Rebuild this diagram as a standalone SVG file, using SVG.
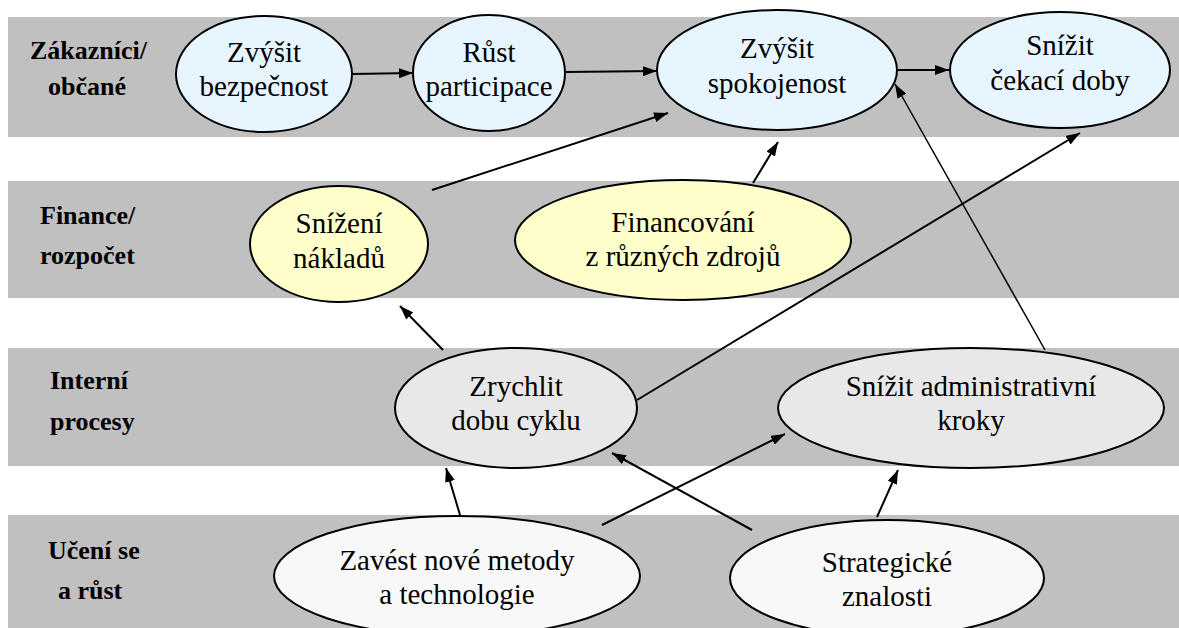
<svg xmlns="http://www.w3.org/2000/svg" width="1179" height="628" viewBox="0 0 1179 628">
<defs>
<marker id="ah" viewBox="0 0 14 10" refX="14" refY="5" markerWidth="14" markerHeight="10" markerUnits="userSpaceOnUse" orient="auto">
<path d="M0,0 L14,5 L0,10 z" fill="#000"/>
</marker>
</defs>
<style>
.band{fill:#c0c0c0}
.lbl{font-family:'Liberation Serif','Times New Roman','DejaVu Serif',serif;font-weight:bold;font-size:26px;fill:#000}
.t{font-family:'Liberation Serif','Times New Roman','DejaVu Serif',serif;font-size:29px;fill:#000;text-anchor:middle}
.e{stroke:#000;stroke-width:2}
.c1{fill:#e6f5ff}
.c2{fill:#ffffcc}
.c3{fill:#e8e8e8}
.c4{fill:#f8f8f8}
.cn{stroke:#000;stroke-width:2;fill:none;marker-end:url(#ah)}
.thin{stroke-width:1.5}
</style>
<rect width="1179" height="628" fill="#fff"/>
<g id="bands">
<rect class="band" x="8" y="17" width="1171" height="120"/>
<rect class="band" x="8" y="181" width="1171" height="117"/>
<rect class="band" x="8" y="348" width="1171" height="118"/>
<rect class="band" x="8" y="515" width="1171" height="113"/>
<text class="lbl" x="30" y="59">Zákazníci/</text>
<text class="lbl" x="48" y="95">občané</text>
<text class="lbl" x="40" y="224">Finance/</text>
<text class="lbl" x="40" y="264">rozpočet</text>
<text class="lbl" x="50" y="389">Interní</text>
<text class="lbl" x="50" y="430">procesy</text>
<text class="lbl" x="48" y="559">Učení se</text>
<text class="lbl" x="58" y="599">a růst</text>
</g>
<g id="connectors">
<line class="cn" x1="352" y1="74" x2="413" y2="73"/>
<line class="cn" x1="565" y1="72" x2="657" y2="71"/>
<line class="cn" x1="897" y1="70" x2="949" y2="70"/>
<line class="cn" x1="432" y1="190" x2="668" y2="113"/>
<line class="cn" x1="753" y1="183" x2="778" y2="142"/>
<line class="cn" x1="637" y1="400" x2="1080" y2="133"/>
<line class="cn thin" x1="1045" y1="350" x2="895" y2="84"/>
<line class="cn" x1="443" y1="350" x2="400" y2="306"/>
<line class="cn" x1="460" y1="515" x2="446" y2="468"/>
<line class="cn" x1="602" y1="525" x2="785" y2="434"/>
<line class="cn" x1="752" y1="530" x2="612" y2="453"/>
<line class="cn" x1="877" y1="517" x2="898" y2="470"/>
</g>
<g id="n1"><ellipse class="e c1" cx="264" cy="74" rx="88" ry="58"/><text class="t" x="264" y="62">Zvýšit</text><text class="t" x="264" y="96">bezpečnost</text></g>
<g id="n2"><ellipse class="e c1" cx="489" cy="73" rx="76" ry="58"/><text class="t" x="489" y="62">Růst</text><text class="t" x="489" y="96">participace</text></g>
<g id="n3"><ellipse class="e c1" cx="777" cy="70" rx="120" ry="60"/><text class="t" x="777" y="58">Zvýšit</text><text class="t" x="777" y="93">spokojenost</text></g>
<g id="n4"><ellipse class="e c1" cx="1060" cy="70" rx="110" ry="58"/><text class="t" x="1060" y="55">Snížit</text><text class="t" x="1060" y="90">čekací doby</text></g>
<g id="n5"><ellipse class="e c2" cx="339" cy="244" rx="89" ry="58"/><text class="t" x="339" y="233">Snížení</text><text class="t" x="339" y="268">nákladů</text></g>
<g id="n6"><ellipse class="e c2" cx="683" cy="240" rx="168" ry="60"/><text class="t" x="683" y="232">Financování</text><text class="t" x="683" y="266">z různých zdrojů</text></g>
<g id="n7"><ellipse class="e c3" cx="516" cy="408" rx="121" ry="60"/><text class="t" x="516" y="396">Zrychlit</text><text class="t" x="516" y="430">dobu cyklu</text></g>
<g id="n8"><ellipse class="e c3" cx="971" cy="408" rx="193" ry="60"/><text class="t" x="971" y="396">Snížit administrativní</text><text class="t" x="971" y="430">kroky</text></g>
<g id="n9"><ellipse class="e c4" cx="457" cy="576" rx="183" ry="60"/><text class="t" x="457" y="570">Zavést nové metody</text><text class="t" x="457" y="604">a technologie</text></g>
<g id="n10"><ellipse class="e c4" cx="887" cy="578" rx="157" ry="58"/><text class="t" x="887" y="572">Strategické</text><text class="t" x="887" y="606">znalosti</text></g>
</svg>
